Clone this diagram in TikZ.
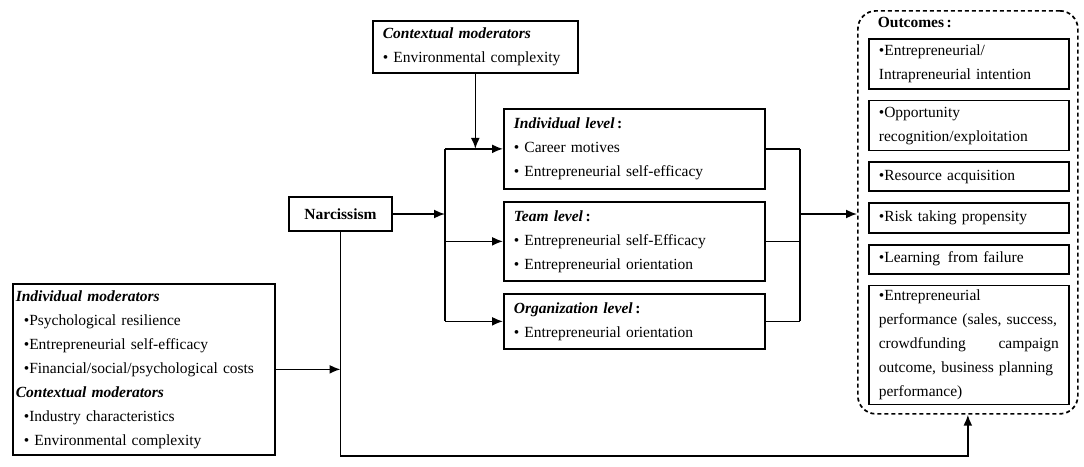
\documentclass[tikz,border=0pt]{standalone}
\usepackage{fontspec}
\setmainfont{Liberation Serif}
\usetikzlibrary{arrows.meta,positioning}

\tikzset{%
  >={Latex[width=9pt,length=11pt]},
  % Specifications for style of nodes:
            base/.style = {rectangle, draw=black, anchor=north west,
                           align=left, inner xsep=10pt, inner ysep=2pt,
                           font=\fontsize{15.5}{24}\selectfont},
        levelBox/.style = {base, text width=241pt},
      outcomeBox/.style = {base, text width=180pt},
       outerLine/.style = {base, dash pattern=on 4pt off 3pt,
                           rounded corners=18pt},
}

\begin{document}
\begin{tikzpicture}[x=1pt, y=1pt, node distance=10pt, line width=1.7pt]
  \useasboundingbox (0,0) rectangle (1084,-466);
  % Moderators, narcissism and the three levels
  \node (ctx) [base, text width=185pt, minimum height=52pt] at (372,-20)
        {\textbf{\textit{Contextual moderators}}\\ • Environmental complexity};
  \node (narc) [base, anchor=center, minimum width=103pt, minimum height=34pt]
        at (340.5,-214) {\textbf{Narcissism}};
  \node (ind) [levelBox, minimum height=80pt] at (503,-108)
        {\textbf{\textit{Individual level}}\,\textbf{:}\\ • Career motives\\
         • Entrepreneurial self-efficacy};
  \node (team) [levelBox, minimum height=79pt] at (503,-201)
        {\textbf{\textit{Team level}}\,\textbf{:}\\ • Entrepreneurial self-Efficacy\\
         • Entrepreneurial orientation};
  \node (org) [levelBox, minimum height=55pt] at (503,-293)
        {\textbf{\textit{Organization level}}\,\textbf{:}\\ • Entrepreneurial orientation};
  \node (indmod) [base, inner xsep=3pt, text width=256pt, minimum height=171pt] at (12,-283)
        {\textbf{\textit{Individual moderators}}\\
         \hspace*{8pt}•Psychological resilience\\
         \hspace*{8pt}•Entrepreneurial self-efficacy\\
         \hspace*{8pt}•Financial/social/psychological costs\\
         \textbf{\textit{Contextual moderators}}\\
         \hspace*{8pt}•Industry characteristics\\
         \hspace*{8pt}• Environmental complexity};
  % Outcomes
  \node (outc) [outerLine, minimum width=220pt, minimum height=403pt] at (857,-10) {};
  \node (outlbl) [base, draw=none, inner sep=0pt] at (877,-16) {\textbf{Outcomes\,:}};
  \node (o1) [outcomeBox, minimum height=50pt] at (868,-38)
        {•Entrepreneurial/\\Intrapreneurial intention};
  \node (o2) [outcomeBox, minimum height=50pt, below=of o1]
        {•Opportunity\\recognition/exploitation};
  \node (o3) [outcomeBox, minimum height=29pt, below=of o2] {•Resource acquisition};
  \node (o4) [outcomeBox, minimum height=30pt, below=of o3] {•Risk taking propensity};
  \node (o5) [outcomeBox, minimum height=29pt, below=of o4] {•Learning\, from failure};
  \node (o6) [outcomeBox, minimum height=119pt, below=of o5]
        {•Entrepreneurial\\performance (sales, success,\\crowdfunding\hfill campaign\\
         outcome, business planning\\performance)};
  % Connectors
  \coordinate (split) at (445,-214);
  \coordinate (join) at (800,-214);
  \draw[->] (ctx.south) -- (ctx.south |- ind.west);
  \draw[->] (narc) -- (split);
  \draw (split |- ind.west) -- (split |- org.west);
  \draw[->] (split |- ind.west) -- (ind.west);
  \draw[->] (split |- team.west) -- (team.west);
  \draw[->] (split |- org.west) -- (org.west);
  \draw (ind.east) -- (join |- ind.east);
  \draw (team.east) -- (join |- team.east);
  \draw (org.east) -- (join |- org.east);
  \draw (join |- ind.east) -- (join |- org.east);
  \draw[->] (join) -- (join -| outc.west);
  \draw[->] (indmod.east) -- (indmod.east -| narc.south);
  \draw[->] (narc.south) -- (narc.south |- indmod.south) -| (outc.south);
\end{tikzpicture}
\end{document}
